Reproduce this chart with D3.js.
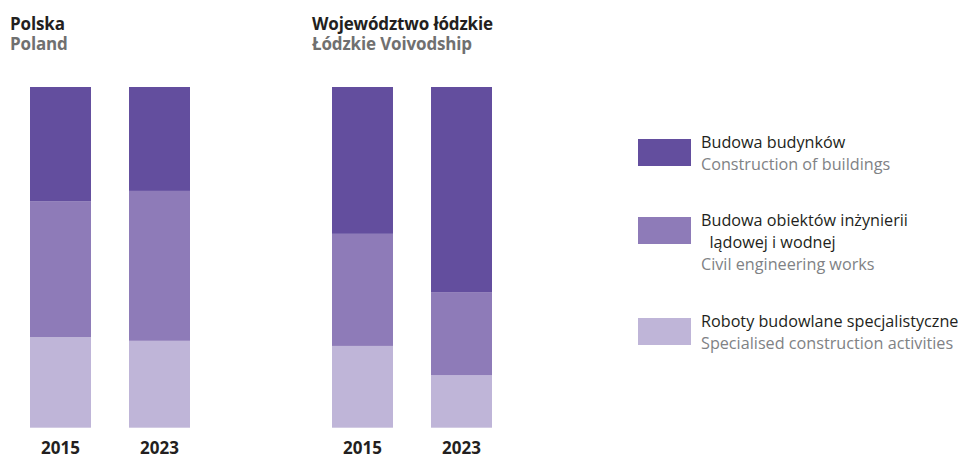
<!DOCTYPE html>
<html><head><meta charset="utf-8">
<script src="https://cdn.jsdelivr.net/npm/d3@7"></script>
<style>body{margin:0;background:#fff}svg{display:block}</style>
</head><body>
<script>
const years = ["2015", "2023"];
const panels = [
  {pl: "Polska", en: "Poland"},
  {pl: "Województwo łódzkie", en: "Łódzkie Voivodship"}
];
const seriesKeys = ["budynki", "inzynieria", "specjalistyczne"];
// values in % (share of total), bottom-to-top stack order: specjalistyczne, inzynieria, budynki
const budynki        = [[33.5, 30.5], [43.1, 60.2]];
const inzynieria     = [[39.9, 44.0], [32.9, 24.4]];
const specjalistyczne= [[26.6, 25.5], [24.0, 15.4]];
const legendPl = [["Budowa budynków"], ["Budowa obiektów inżynierii", "  lądowej i wodnej"], ["Roboty budowlane specjalistyczne"]];
const legendEn = ["Construction of buildings", "Civil engineering works", "Specialised construction activities"];
const colors = ["#634e9e", "#8e7bb8", "#bfb5d8"];

const W = 972, H = 456;
const svg = d3.select("body").append("svg").attr("width", W).attr("height", H);
const font = "'Open Sans', sans-serif";

const y = d3.scaleLinear().domain([0, 100]).range([427.7, 87]);
const panelX = [30, 332];
const x = d3.scaleBand().domain(years).range([0, 160]).paddingInner(0.384).paddingOuter(0);

const data = [budynki, inzynieria, specjalistyczne];
panels.forEach((p, pi) => {
  const g = svg.append("g").attr("transform", `translate(${panelX[pi]},0)`);
  const rows = years.map((yr, yi) => {
    const r = {year: yr};
    seriesKeys.forEach((k, ki) => r[k] = data[ki][pi][yi]);
    return r;
  });
  const stack = d3.stack().keys(["specjalistyczne", "inzynieria", "budynki"])(rows);
  stack.forEach(layer => {
    const ci = seriesKeys.indexOf(layer.key);
    g.selectAll(null).data(layer).enter().append("rect")
      .attr("x", d => x(d.data.year))
      .attr("width", x.bandwidth())
      .attr("y", d => y(d[1]))
      .attr("height", d => y(d[0]) - y(d[1]))
      .attr("fill", colors[ci]);
  });
  const ax = g.append("g").attr("transform", `translate(0,${y(0)})`)
    .call(d3.axisBottom(x).tickSize(0));
  ax.select(".domain").remove();
  ax.selectAll("text").attr("dy", null).attr("y", 26.5)
    .attr("font-family", font).attr("font-weight", "bold")
    .attr("font-size", 17).attr("fill", "#231f20");
  const tx = pi === 0 ? 10 : 312;
  svg.append("text").attr("x", tx).attr("y", 29.5).text(p.pl)
    .attr("font-family", font).attr("font-weight", "bold").attr("font-size", 17)
    .attr("fill", "#231f20").attr("letter-spacing", -0.15);
  svg.append("text").attr("x", tx).attr("y", 50).text(p.en)
    .attr("font-family", font).attr("font-weight", "bold").attr("font-size", 17)
    .attr("fill", "#707070").attr("letter-spacing", -0.15);
});

// legend
const legY = [139, 217, 318];
const lg = svg.append("g");
seriesKeys.forEach((k, i) => {
  lg.append("rect").attr("x", 638).attr("y", legY[i]).attr("width", 53).attr("height", 27).attr("fill", colors[i]);
  let by = legY[i] + 8.5;
  legendPl[i].forEach((line, li) => {
    lg.append("text").attr("x", 701).attr("y", by + li * 22.4).attr("xml:space", "preserve")
      .text(line).attr("font-family", font).attr("font-size", 16.2).attr("fill", "#231f20");
  });
  lg.append("text").attr("x", 701).attr("y", by + legendPl[i].length * 22.4)
    .text(legendEn[i]).attr("font-family", font).attr("font-size", 16.2).attr("fill", "#808285");
});
</script>
</body></html>
